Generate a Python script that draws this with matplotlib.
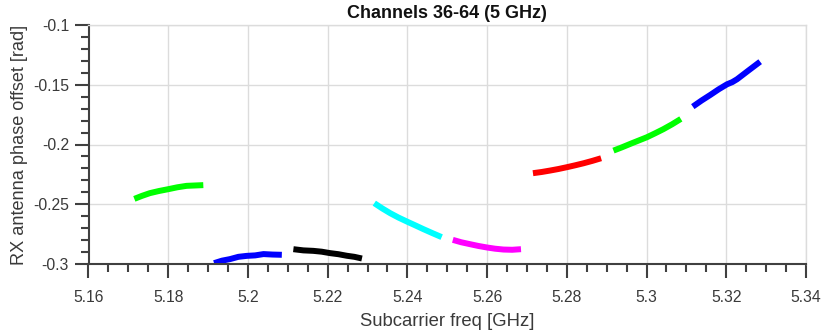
import matplotlib
matplotlib.use("Agg")
import matplotlib.pyplot as plt
from matplotlib.ticker import MultipleLocator, FuncFormatter

plt.rcParams['font.family'] = ['Liberation Sans', 'DejaVu Sans']

# Segments: (frequency GHz, phase offset rad, color)
ch36_f = [5.1715, 5.1734, 5.1754, 5.1777, 5.1800, 5.1823, 5.1846, 5.1867, 5.1888]
ch36_p = [-0.2455, -0.2430, -0.2407, -0.2389, -0.2374, -0.2358, -0.2346, -0.2343, -0.2340]

ch40_f = [5.1915, 5.1935, 5.1955, 5.1976, 5.1997, 5.2018, 5.2039, 5.2062, 5.2085]
ch40_p = [-0.2993, -0.2972, -0.2959, -0.2940, -0.2932, -0.2928, -0.2917, -0.2921, -0.2923]

ch44_f = [5.2114, 5.2139, 5.2164, 5.2185, 5.2206, 5.2227, 5.2248, 5.2267, 5.2286]
ch44_p = [-0.2876, -0.2886, -0.2890, -0.2897, -0.2909, -0.2918, -0.2931, -0.2940, -0.2954]

ch48_f = [5.2317, 5.2337, 5.2357, 5.2378, 5.2399, 5.2420, 5.2440, 5.2463, 5.2486]
ch48_p = [-0.2491, -0.2535, -0.2575, -0.2612, -0.2645, -0.2677, -0.2708, -0.2742, -0.2775]

ch52_f = [5.2514, 5.2535, 5.2557, 5.2578, 5.2600, 5.2620, 5.2641, 5.2663, 5.2685]
ch52_p = [-0.2798, -0.2818, -0.2834, -0.2849, -0.2862, -0.2872, -0.2879, -0.2881, -0.2876]

ch56_f = [5.2715, 5.2737, 5.2758, 5.2779, 5.2800, 5.2821, 5.2842, 5.2864, 5.2886]
ch56_p = [-0.2240, -0.2230, -0.2218, -0.2205, -0.2190, -0.2174, -0.2157, -0.2137, -0.2115]

ch60_f = [5.2917, 5.2938, 5.2959, 5.2980, 5.3001, 5.3021, 5.3042, 5.3064, 5.3086]
ch60_p = [-0.2051, -0.2024, -0.1995, -0.1967, -0.1939, -0.1907, -0.1872, -0.1831, -0.1786]

ch64_f = [5.3116, 5.3138, 5.3160, 5.3181, 5.3202, 5.3215, 5.3227, 5.3256, 5.3285]
ch64_p = [-0.1683, -0.1632, -0.1585, -0.1538, -0.1496, -0.1478, -0.1454, -0.1380, -0.1307]

series = [
    (ch36_f, ch36_p, '#00ff00'),
    (ch40_f, ch40_p, '#0000ff'),
    (ch44_f, ch44_p, '#000000'),
    (ch48_f, ch48_p, '#00ffff'),
    (ch52_f, ch52_p, '#ff00ff'),
    (ch56_f, ch56_p, '#ff0000'),
    (ch60_f, ch60_p, '#00ff00'),
    (ch64_f, ch64_p, '#0000ff'),
]

x_ticks = [5.16, 5.18, 5.2, 5.22, 5.24, 5.26, 5.28, 5.3, 5.32, 5.34]
y_ticks = [-0.3, -0.25, -0.2, -0.15, -0.1]

fig = plt.figure(figsize=(8.3, 3.32), dpi=100)
ax = fig.add_axes([88.5/830, (332-264)/332, (806-88.5)/830, (264-25)/332])

for f, p, c in series:
    ax.plot(f, p, color=c, linewidth=4.3, solid_capstyle='butt')

ax.set_xlim(5.16, 5.34)
ax.set_ylim(-0.3, -0.1)
ax.set_xticks(x_ticks)
ax.set_yticks(y_ticks)
ax.xaxis.set_minor_locator(MultipleLocator(0.005))
ax.yaxis.set_minor_locator(MultipleLocator(0.01))

def fmt(v, pos):
    s = ('%.2f' % v).rstrip('0').rstrip('.')
    return s
ax.xaxis.set_major_formatter(FuncFormatter(fmt))
ax.yaxis.set_major_formatter(FuncFormatter(fmt))

axis_col = '#404040'
txt_col = '#3a3a3a'
ax.grid(True, which='major', color='#dcdcdc', linewidth=1.0)
ax.set_axisbelow(True)
for s in ['left', 'bottom']:
    ax.spines[s].set_color(axis_col)
    ax.spines[s].set_linewidth(1.5)
for s in ['top', 'right']:
    ax.spines[s].set_color('#dcdcdc')
    ax.spines[s].set_linewidth(1.0)

ax.tick_params(which='major', direction='out', length=10, width=1.5, color=axis_col,
               labelsize=11.3, labelcolor=txt_col)
ax.tick_params(axis='x', which='major', pad=9)
ax.tick_params(axis='y', which='major', pad=4)
ax.tick_params(which='minor', direction='out', length=5.5, width=1.5, color=axis_col)
ax.tick_params(top=False, right=False, which='both')

ax.set_xlabel('Subcarrier freq [GHz]', fontsize=13.3, color=txt_col, labelpad=5.5)
ax.set_ylabel('RX antenna phase offset [rad]', fontsize=13.1, color=txt_col, labelpad=4)
ax.set_title('Channels 36-64 (5 GHz)', fontsize=13, fontweight='bold', color='#111111', pad=5)

fig.savefig('out.png', dpi=100)
